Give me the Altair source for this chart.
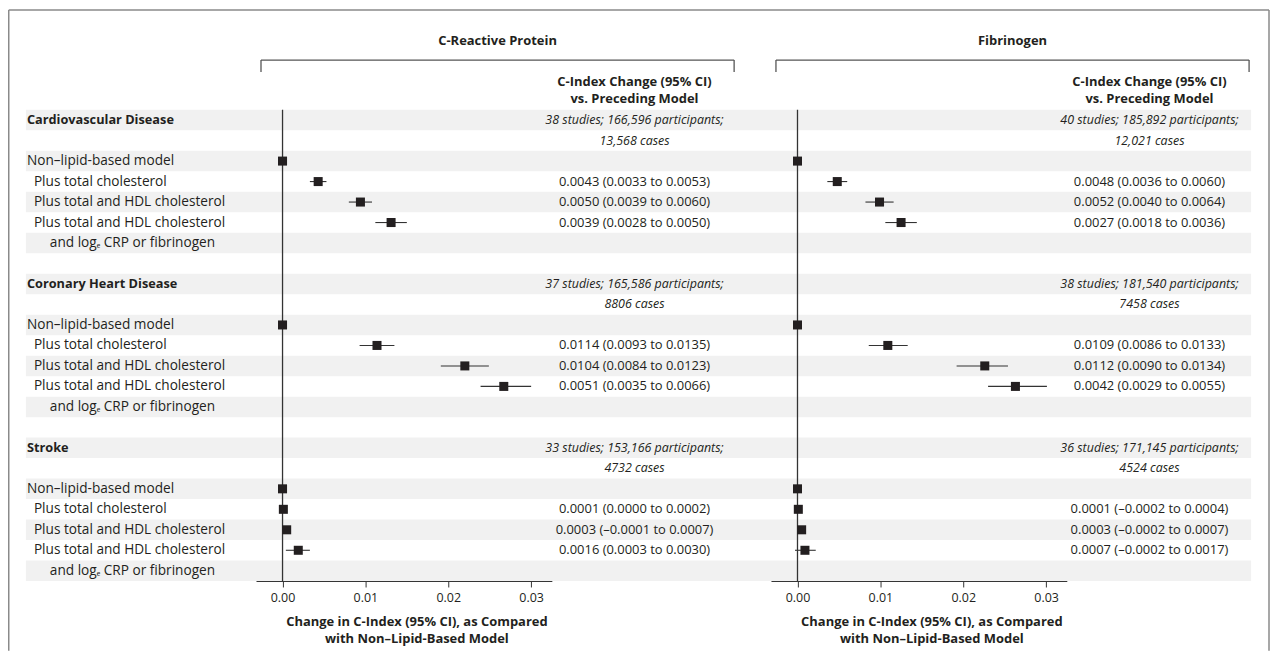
import altair as alt
import pandas as pd

FONT = "Open Sans"
INK = "#231f20"
STRIPE = "#f1f1f1"

# ---------------- data ----------------
diseases = ["Cardiovascular Disease", "Coronary Heart Disease", "Stroke"]
model_labels = ["Non–lipid-based model", "Plus total cholesterol",
                "Plus total and HDL cholesterol", "Plus total and HDL cholesterol"]
model_label_cont = "and logₑ CRP or fibrinogen"

panel_titles = ["C-Reactive Protein", "Fibrinogen"]
col_header = ["C-Index Change (95% CI)", "vs. Preceding Model"]
axis_title = ["Change in C-Index (95% CI), as Compared", "with Non–Lipid-Based Model"]
tick_values = [0.0, 0.01, 0.02, 0.03]

crp_studies = ["38 studies; 166,596 participants;", "37 studies; 165,586 participants;",
               "33 studies; 153,166 participants;"]
crp_cases = ["13,568 cases", "8806 cases", "4732 cases"]
fib_studies = ["40 studies; 185,892 participants;", "38 studies; 181,540 participants;",
               "36 studies; 171,145 participants;"]
fib_cases = ["12,021 cases", "7458 cases", "4524 cases"]

# change vs non-lipid-based model (squares and CI lines)
crp_est = [[0.0, 0.0043, 0.0094, 0.0131], [0.0, 0.0114, 0.0220, 0.0267], [0.0, 0.0001, 0.0005, 0.0019]]
crp_lo = [[None, 0.0033, 0.0080, 0.0112], [None, 0.0093, 0.0191, 0.0239], [None, 0.0000, 0.0002, 0.0004]]
crp_hi = [[None, 0.0053, 0.0108, 0.0150], [None, 0.0135, 0.0249, 0.0300], [None, 0.0002, 0.0008, 0.0033]]
crp_ci = [["", "0.0043 (0.0033 to 0.0053)", "0.0050 (0.0039 to 0.0060)", "0.0039 (0.0028 to 0.0050)"],
          ["", "0.0114 (0.0093 to 0.0135)", "0.0104 (0.0084 to 0.0123)", "0.0051 (0.0035 to 0.0066)"],
          ["", "0.0001 (0.0000 to 0.0002)", "0.0003 (–0.0001 to 0.0007)", "0.0016 (0.0003 to 0.0030)"]]

fib_est = [[0.0, 0.0048, 0.0099, 0.0125], [0.0, 0.0109, 0.0226, 0.0263], [0.0, 0.0001, 0.0005, 0.0009]]
fib_lo = [[None, 0.0036, 0.0082, 0.0106], [None, 0.0086, 0.0192, 0.0230], [None, -0.0002, 0.0002, -0.0003]]
fib_hi = [[None, 0.0060, 0.0116, 0.0144], [None, 0.0133, 0.0254, 0.0301], [None, 0.0004, 0.0008, 0.0022]]
fib_ci = [["", "0.0048 (0.0036 to 0.0060)", "0.0052 (0.0040 to 0.0064)", "0.0027 (0.0018 to 0.0036)"],
          ["", "0.0109 (0.0086 to 0.0133)", "0.0112 (0.0090 to 0.0134)", "0.0042 (0.0029 to 0.0055)"],
          ["", "0.0001 (–0.0002 to 0.0004)", "0.0003 (–0.0002 to 0.0007)", "0.0007 (–0.0002 to 0.0017)"]]

# ---------------- layout constants ----------------
N_ROWS = 23
BLOCK = 8
W, H = 297, 473
X_DOMAIN = [-0.0032, 0.0325]
GAP = 220


def one(s):
    return pd.DataFrame({"t": [s]})


def text_at(s, x, y, **kw):
    return alt.Chart(one(s)).mark_text(font=FONT, color=INK, **kw).encode(
        text="t:N", x=alt.value(x), y=alt.value(y))


def hrule(x1, x2, y, color="#555555", sw=1.3):
    return alt.Chart(one("r")).mark_rule(color=color, strokeWidth=sw).encode(
        x=alt.value(x1), x2=alt.value(x2), y=alt.value(y))


def vrule(x, y1, y2, color="#555555", sw=1.3):
    return alt.Chart(one("r")).mark_rule(color=color, strokeWidth=sw).encode(
        x=alt.value(x), y=alt.value(y1), y2=alt.value(y2))


def panel(title, studies, cases, est, lo, hi, ci, left):
    xs = alt.Scale(domain=X_DOMAIN, nice=False, zero=False)
    ys = alt.Scale(domain=list(range(N_ROWS)), paddingInner=0, paddingOuter=0)
    ax = alt.Axis(values=tick_values, format=".2f", title=axis_title,
                  titleFont=FONT, titleFontSize=13, titleFontWeight="bold", titleColor=INK,
                  titleX=161, titlePadding=11, titleLineHeight=17,
                  labelFont=FONT, labelFontSize=12.5, labelColor=INK, labelPadding=5,
                  labelFlush=False, tickSize=6, tickColor="#333333", domainColor="#333333",
                  domainWidth=1, tickWidth=1, grid=False)
    Y = alt.Y("row:O", scale=ys, axis=None)

    recs = []
    for i in range(3):
        for j in range(4):
            recs.append(dict(row=BLOCK * i + 2 + j, est=est[i][j], lo=lo[i][j], hi=hi[i][j], ci=ci[i][j]))
    mdf = pd.DataFrame(recs)
    bars = mdf.dropna(subset=["lo"])
    cidf = mdf[mdf["ci"] != ""]

    sdf = pd.DataFrame({"row": [BLOCK * i for i in range(3)] + [BLOCK * i + 1 for i in range(3)],
                        "t": studies + cases})
    stripes = pd.DataFrame({"row": list(range(0, N_ROWS, 2))})
    zero = pd.DataFrame({"z": [0.0]})

    x0 = -231 if left else 0
    x1 = W + GAP if left else 482
    layers = [
        alt.Chart(stripes).mark_rect(color=STRIPE).encode(x=alt.value(x0), x2=alt.value(x1), y=Y),
        alt.Chart(zero).mark_rule(color="#333333", strokeWidth=1.3).encode(
            x=alt.X("z:Q", scale=xs, axis=ax)),
        alt.Chart(bars).mark_rule(color="#333333", strokeWidth=1.1).encode(
            x=alt.X("lo:Q", scale=xs, axis=ax), x2="hi:Q", y=Y),
        alt.Chart(mdf).mark_square(color=INK, size=82, opacity=1).encode(
            x=alt.X("est:Q", scale=xs, axis=ax), y=Y),
        alt.Chart(cidf).mark_text(font=FONT, fontSize=13, color=INK, align="center", baseline="middle").encode(
            x=alt.value(380), y=Y, text="ci:N"),
        alt.Chart(sdf).mark_text(font=FONT, fontSize=12.5, fontStyle="italic", color=INK,
                                 align="center", baseline="middle").encode(
            x=alt.value(380), y=Y, text="t:N"),
        text_at(title, 242.5, -69, fontSize=13, fontWeight="bold", align="center", baseline="middle"),
        hrule(5, 480, -50),
        vrule(5, -50, -38),
        vrule(480, -50, -38),
        text_at(col_header[0], 380, -28, fontSize=13, fontWeight="bold", align="center", baseline="middle"),
        text_at(col_header[1], 380, -11, fontSize=13, fontWeight="bold", align="center", baseline="middle"),
    ]

    if left:
        ddf = pd.DataFrame({"row": [BLOCK * i for i in range(3)], "t": diseases})
        l0 = pd.DataFrame({"row": [BLOCK * i + 2 for i in range(3)], "t": [model_labels[0]] * 3})
        l1 = pd.DataFrame({"row": [BLOCK * i + 3 + k for i in range(3) for k in range(3)],
                           "t": model_labels[1:] * 3})
        l2 = pd.DataFrame({"row": [BLOCK * i + 6 for i in range(3)], "t": [model_label_cont] * 3})
        lab = dict(font=FONT, color=INK, align="left", baseline="middle")
        layers += [
            alt.Chart(ddf).mark_text(fontSize=12.8, fontWeight="bold", **lab).encode(
                x=alt.value(-230), y=Y, text="t:N"),
            alt.Chart(l0).mark_text(fontSize=13.7, **lab).encode(x=alt.value(-230), y=Y, text="t:N"),
            alt.Chart(l1).mark_text(fontSize=13.7, **lab).encode(x=alt.value(-223), y=Y, text="t:N"),
            alt.Chart(l2).mark_text(fontSize=13.7, **lab).encode(x=alt.value(-207), y=Y, text="t:N"),
            # outer frame
            hrule(-248.25, 1017, -100.25, color="#8a8a8a", sw=1.5),
            vrule(-248.25, -100.25, 543, color="#8a8a8a", sw=1.5),
            vrule(1017, -100.25, 543, color="#8a8a8a", sw=1.5),
        ]
    return alt.layer(*layers).properties(width=W, height=H)


left_panel = panel(panel_titles[0], crp_studies, crp_cases, crp_est, crp_lo, crp_hi, crp_ci, True)
right_panel = panel(panel_titles[1], fib_studies, fib_cases, fib_est, fib_lo, fib_hi, fib_ci, False)

chart = alt.hconcat(left_panel, right_panel, spacing=GAP, bounds="flush", padding=0,
                    background="white").configure_view(stroke=None, strokeWidth=0)

chart.save("out.html", embed_options={"renderer": "svg", "actions": False})
